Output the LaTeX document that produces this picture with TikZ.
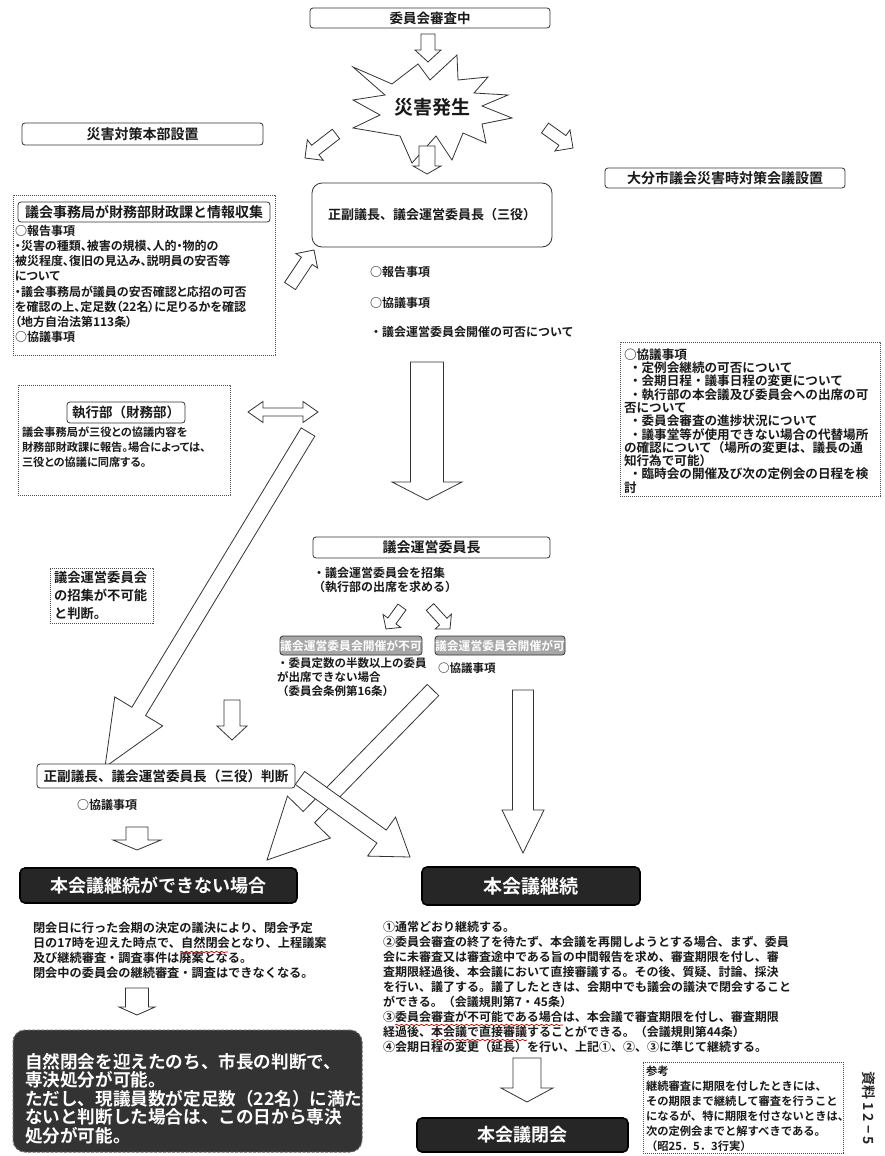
\documentclass[tikz,border=0pt]{standalone}
\usepackage{fontspec}
\setmainfont{Noto Sans CJK JP}[BoldFont=* Bold]
\newfontfamily\jpp{Noto Sans CJK JP}[BoldFont=* Bold, RawFeature=+palt]
\usetikzlibrary{calc,decorations.pathmorphing}
\newcommand{\fs}[2]{\fontsize{#1}{#2}\selectfont\bfseries}
\newcommand{\blockarrow}[5]{%
  \path let \p1=(#1), \p2=(#2) in \pgfextra{%
    \pgfmathsetmacro{\baA}{atan2(\y2-\y1,\x2-\x1)}%
    \pgfmathsetmacro{\baL}{veclen(\x2-\x1,\y2-\y1)}%
    \global\let\baAng\baA \global\let\baLen\baL};
  \begin{scope}[shift={(#1)},rotate=\baAng]
    \draw[blockarr] (0pt,#3pt) -- ({\baLen pt-#5pt},#3pt) -- ({\baLen pt-#5pt},#4pt) -- (\baLen pt,0pt)
      -- ({\baLen pt-#5pt},-#4pt) -- ({\baLen pt-#5pt},-#3pt) -- (0pt,-#3pt) -- cycle;
  \end{scope}}
\newcommand{\dblarrow}[5]{%
  \path let \p1=(#1), \p2=(#2) in \pgfextra{%
    \pgfmathsetmacro{\baA}{atan2(\y2-\y1,\x2-\x1)}%
    \pgfmathsetmacro{\baL}{veclen(\x2-\x1,\y2-\y1)}%
    \global\let\baAng\baA \global\let\baLen\baL};
  \begin{scope}[shift={(#1)},rotate=\baAng]
    \draw[blockarr] (0pt,0pt) -- (#5pt,#4pt) -- (#5pt,#3pt) -- ({\baLen pt-#5pt},#3pt) -- ({\baLen pt-#5pt},#4pt) -- (\baLen pt,0pt)
      -- ({\baLen pt-#5pt},-#4pt) -- ({\baLen pt-#5pt},-#3pt) -- (#5pt,-#3pt) -- (#5pt,-#4pt) -- cycle;
  \end{scope}}
\tikzset{
  rbox/.style={draw=black!80, line width=0.8pt, rounded corners=3pt, fill=white, inner sep=0pt, outer sep=0pt, text=black!90},
  dbox/.style={draw=black!70, line width=0.6pt, dash pattern=on 1.2pt off 0.8pt, inner sep=0pt, outer sep=0pt},
  blockarr/.style={draw=black!80, line width=0.8pt, fill=white, line join=miter},
  txt/.style={inner sep=0pt, outer sep=0pt, anchor=north west, align=left, text=black!90},
  grbox/.style={draw=black!80, line width=0.8pt, rounded corners=3pt, fill=black!35, inner sep=0pt, text=white},
  blkbox/.style={draw=black, line width=1.6pt, rounded corners=5pt, fill=black!85, inner sep=0pt, text=white!85},
  redline/.style={draw=red!75!black, line width=0.7pt, decorate, decoration={snake, amplitude=0.7pt, segment length=5pt}},
  starb/.style={draw=black!80, line width=0.8pt, fill=white, line join=miter}
}
\begin{document}
\begin{tikzpicture}[x=1pt,y=-1pt]
\useasboundingbox (0,0) rectangle (884,1156);
\fill[white] (0,0) rectangle (884,1156);

% ---------- top ----------
\node[rbox, minimum width=240pt, minimum height=20pt, font=\fs{13.5}{16}] (shinsa) at (430,18) {委員会審査中};
\coordinate (a1s) at (428,34); \coordinate (a1e) at (428,62);
\blockarrow{a1s}{a1e}{7}{13}{12}

% starburst
\draw[starb] (353,67) -- (392,84) -- (418,64) -- (430,80) -- (457,55) -- (458,80) -- (488,77) -- (474,93)
  -- (508,95) -- (482,106) -- (512,118) -- (482,124) -- (486,143) -- (463,133) -- (452,160) -- (436,136)
  -- (412,163) -- (400,136) -- (353,128) -- (380,115) -- (353,100) -- (385,95) -- cycle;
\node[font=\fs{19}{22}, text=black!90] (saigai) at (432,107) {災害発生};

\coordinate (a2s) at (427,146); \coordinate (a2e) at (427,174);
\blockarrow{a2s}{a2e}{8}{14}{8}
\coordinate (a3s) at (336,134); \coordinate (a3e) at (305,158);
\blockarrow{a3s}{a3e}{6}{13}{13}
\coordinate (a4s) at (545,128); \coordinate (a4e) at (573,148);
\blockarrow{a4s}{a4e}{6}{13}{13}

\node[rbox, minimum width=241pt, minimum height=22pt, font=\fs{14}{16}] (honbu) at (142.5,134) {災害対策本部設置};
\node[rbox, minimum width=240pt, minimum height=20pt, font=\fs{14}{16}] (taisaku) at (725,178) {大分市議会災害時対策会議設置};

% three officers
\node[rbox, rounded corners=10pt, minimum width=240pt, minimum height=64pt, font=\fs{13}{16}] (sanyaku) at (432,215) {正副議長、議会運営委員長（三役）};
\node[txt, anchor=west, font=\fs{12}{14}] (s1) at (370,272) {○報告事項};
\node[txt, anchor=west, font=\fs{12}{14}] (s2) at (370,303) {○協議事項};
\node[txt, anchor=west, font=\fs{12}{14}] (s3) at (370,332) {・議会運営委員会開催の可否について};

\coordinate (a5s) at (427,362); \coordinate (a5e) at (427,500);
\blockarrow{a5s}{a5e}{16.5}{35}{18}

% left info box
\node[dbox, minimum width=262pt, minimum height=160pt] (jimu) at (144,275) {};
\node[rbox, minimum width=252pt, minimum height=20pt, font=\fs{14}{16}] (jimut) at (144,212) {議会事務局が財務部財政課と情報収集};
\node[txt, font=\jpp\fs{12}{15.2}] (jimub) at (15,225) {○報告事項\\・災害の種類、被害の規模、人的・物的の\\被災程度、復旧の見込み、説明員の安否等\\について\\・議会事務局が議員の安否確認と応招の可否\\を確認の上、定足数（22名）に足りるかを確認\\（地方自治法第113条）\\○協議事項};
\coordinate (a6s) at (290,286); \coordinate (a6e) at (314,250);
\blockarrow{a6s}{a6e}{6.5}{13}{13}

% executive box
\node[dbox, minimum width=212pt, minimum height=110pt] (shikko) at (124,440) {};
\node[rbox, minimum width=118pt, minimum height=21pt, font=\fs{13.5}{16}] (shikkot) at (126,412.5) {執行部（財務部）};
\node[txt, font=\jpp\fs{11.2}{15}] (shikkob) at (22,427) {議会事務局が三役との協議内容を\\財務部財政課に報告。場合によっては、\\三役との協議に同席する。};
\coordinate (d1) at (248,412); \coordinate (d2) at (318,412);
\dblarrow{d1}{d2}{4}{10.5}{15}

% right box
\node[dbox, minimum width=260pt, minimum height=154pt] (kyogi) at (750,419) {};
\node[txt, font=\fs{12.6}{13.3}] (kyogib) at (624,348.5) {○協議事項\\\hspace{0.4em}・定例会継続の可否について\\\hspace{0.4em}・会期日程・議事日程の変更について\\\hspace{0.4em}・執行部の本会議及び委員会への出席の可\\否について\\\hspace{0.4em}・委員会審査の進捗状況について\\\hspace{0.4em}・議事堂等が使用できない場合の代替場所\\の確認について（場所の変更は、議長の通\\知行為で可能）\\\hspace{0.4em}・臨時会の開催及び次の定例会の日程を検\\討};

% long diagonal arrow A
\coordinate (aAs) at (308,432); \coordinate (aAe) at (105,767);
\blockarrow{aAs}{aAe}{8}{28}{65}

\node[dbox, minimum width=103pt, minimum height=55pt] (fukano) at (101.5,595.5) {};
\node[txt, font=\fs{13.3}{18}] (fukanob) at (54,571) {議会運営委員会\\の招集が不可能\\と判断。};

% committee chair
\node[rbox, minimum width=237pt, minimum height=21pt, font=\fs{14}{16}] (iincho) at (431.5,547.5) {議会運営委員長};
\node[txt, font=\fs{12}{14}] (iinchob) at (313,567) {・議会運営委員会を招集\\（執行部の出席を求める）};
\coordinate (a7s) at (402,607); \coordinate (a7e) at (386,629);
\blockarrow{a7s}{a7e}{5}{11}{10}
\coordinate (a8s) at (430,607); \coordinate (a8e) at (450,629);
\blockarrow{a8s}{a8e}{5}{11}{10}

\node[grbox, minimum width=142pt, minimum height=19pt, font=\fs{11.8}{14}] (fuka) at (351,645.5) {議会運営委員会開催が不可};
\node[grbox, minimum width=130pt, minimum height=19pt, font=\fs{11.8}{14}] (ka) at (500,645.5) {議会運営委員会開催が可};
\node[txt, font=\fs{11.5}{14}] (fukab) at (277,658) {・委員定数の半数以上の委員\\が出席できない場合\\（委員会条例第16条）};
\node[txt, anchor=west, font=\fs{11.5}{14}] (kab) at (438,668) {○協議事項};

% arrows to bottom
\coordinate (a9s) at (232,700); \coordinate (a9e) at (232,740);
\blockarrow{a9s}{a9e}{8}{15}{14}
\coordinate (aBs) at (433,690); \coordinate (aBe) at (267,860);
\blockarrow{aBs}{aBe}{8}{30}{60}
\coordinate (aCs) at (523,690); \coordinate (aCe) at (523,853);
\blockarrow{aCs}{aCe}{10.5}{21}{43}

\node[rbox, minimum width=258pt, minimum height=24pt, font=\fs{13.6}{16}] (handan) at (166,776) {正副議長、議会運営委員長（三役）判断};
\node[txt, anchor=west, font=\fs{12}{14}] (handanb) at (77,805) {○協議事項};
\coordinate (aDs) at (300,778); \coordinate (aDe) at (410,857);
\blockarrow{aDs}{aDe}{8}{24}{35}
\coordinate (aEs) at (137,827); \coordinate (aEe) at (137,850);
\blockarrow{aEs}{aEe}{11}{24}{10}

% black boxes
\node[blkbox, minimum width=277pt, minimum height=35pt, font=\fs{18}{20}] (dekinai) at (158.5,885.5) {本会議継続ができない場合};
\node[blkbox, minimum width=218pt, minimum height=38pt, font=\fs{19}{22}] (keizoku) at (531,886) {本会議継続};

\node[txt, font=\fs{12.2}{15}] (dekinaib) at (33,922) {閉会日に行った会期の決定の議決により、閉会予定\\日の17時を迎えた時点で、自然閉会となり、上程議案\\及び継続審査・調査事件は廃案となる。\\閉会中の委員会の継続審査・調査はできなくなる。};
\draw[redline] (180,952) -- (228,952);

\coordinate (aFs) at (137,988); \coordinate (aFe) at (137,1015);
\blockarrow{aFs}{aFe}{11.5}{18}{8}

\node[draw=black!60, dash pattern=on 3pt off 1.5pt, line width=1pt, rounded corners=12pt, fill=black!80, minimum width=349pt, minimum height=122pt, inner sep=0pt] (senketsu) at (187.5,1091) {};
\node[txt, font=\fs{17.6}{18.6}, text=white!90] (senketsub) at (25,1053) {自然閉会を迎えたのち、市長の判断で、\\専決処分が可能。\\ただし、現議員数が定足数（22名）に満た\\ないと判断した場合は、この日から専決\\処分が可能。};

\node[txt, font=\fs{12}{15}] (keizokub) at (383,921) {①通常どおり継続する。\\②委員会審査の終了を待たず、本会議を再開しようとする場合、まず、委員\\会に未審査又は審査途中である旨の中間報告を求め、審査期限を付し、審\\査期限経過後、本会議において直接審議する。その後、質疑、討論、採決\\を行い、議了する。議了したときは、会期中でも議会の議決で閉会すること\\ができる。（会議規則第7・45条）\\③委員会審査が不可能である場合は、本会議で審査期限を付し、審査期限\\経過後、本会議で直接審議することができる。（会議規則第44条）\\④会期日程の変更（延長）を行い、上記①、②、③に準じて継続する。};
\draw[redline] (395,1025) -- (563,1025);
\draw[redline] (431,1040) -- (527,1040);

\coordinate (aGs) at (527,1058); \coordinate (aGe) at (527,1102);
\blockarrow{aGs}{aGe}{14}{26}{14}
\node[blkbox, minimum width=211pt, minimum height=34pt, font=\fs{18}{20}] (heikai) at (522.5,1135) {本会議閉会};

\node[dbox, minimum width=200pt, minimum height=91pt] (sanko) at (743,1107.5) {};
\node[txt, font=\fs{11.3}{15}] (sankob) at (646,1066) {参考\\継続審査に期限を付したときには、\\その期限まで継続して審査を行うこと\\になるが、特に期限を付さないときは、\\次の定例会までと解すべきである。\\（昭25．5．3行実）};
\node[rotate=-90, inner sep=0pt, font=\fs{14}{16}, text=black!85] (shiryo) at (869,1108) {資料\ 1 2 − 5};
\end{tikzpicture}
\end{document}
